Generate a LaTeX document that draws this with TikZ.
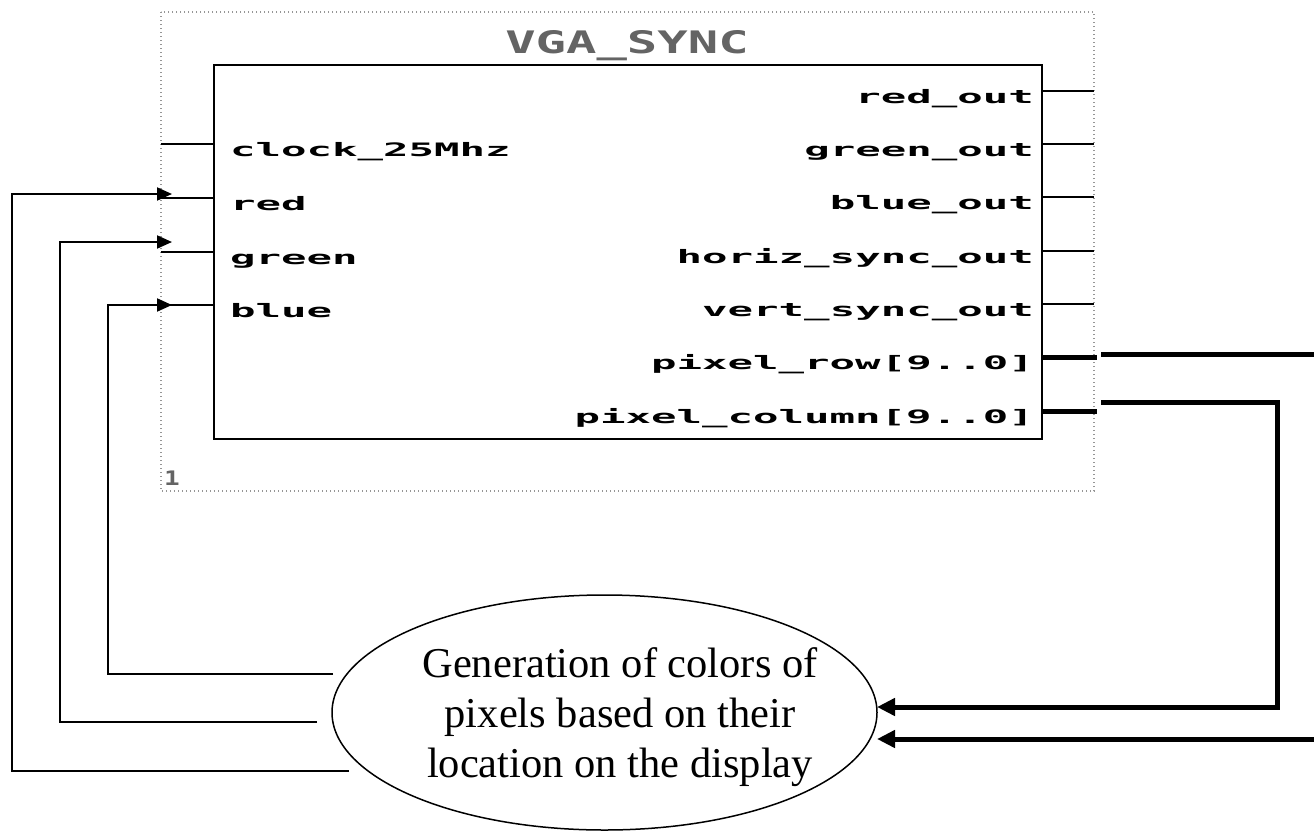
\documentclass[tikz,border=0pt]{standalone}
\usepackage{fontspec}
\setmainfont{Liberation Serif}
\newfontfamily\pixfont[FakeStretch=2.29]{DejaVu Sans Mono Bold}
\newfontfamily\titlefont[FakeStretch=1.63]{DejaVu Sans Mono Bold}
\newfontfamily\numfont[FakeStretch=1.3]{DejaVu Sans Mono Bold}
\usetikzlibrary{arrows.meta,shapes.geometric}
\definecolor{titlegray}{RGB}{100,100,100}
\definecolor{dotgray}{RGB}{150,150,150}
\begin{document}
\begin{tikzpicture}[x=1pt,y=-1pt,
  pinline/.style={line width=1.2pt},
  busline/.style={line width=5pt},
  fb/.style={line width=2pt,-{Triangle[length=15pt,width=13pt]}},
  busarrow/.style={line width=5pt,-{Triangle[length=18pt,width=17pt]}},
  lbl/.style={font=\pixfont\fontsize{18.5}{18.5}\selectfont,inner sep=0pt},
  lbll/.style={lbl,anchor=base west},
  lblr/.style={lbl,anchor=base east}]
\useasboundingbox (0,0) rectangle (1314,835);
\fill[white] (0,0) rectangle (1314,835);
% dotted frame
\draw[dotgray,line width=1.3pt,dash pattern=on 1.3pt off 2.7pt] (161,12) rectangle (1094,491);
% block
\node[draw,line width=1.5pt,minimum width=828pt,minimum height=374pt,inner sep=0pt,anchor=north west] (sync) at (213,64) {};
\node[font=\titlefont\fontsize{31}{31}\selectfont,text=titlegray,anchor=base,inner sep=0pt] (title) at (627,53) {VGA\_SYNC};
\node[font=\numfont\fontsize{20}{20}\selectfont,text=titlegray,anchor=base west,inner sep=0pt] (num) at (164,485) {1};
% left pins
\coordinate (ckp) at (161,144);
\coordinate (rdp) at (161,198);
\coordinate (grp) at (161,252);
\coordinate (blp) at (161,305);
\foreach \p in {ckp,rdp,grp,blp} \draw[pinline] (\p) -- (\p -| sync.west);
\node[lbll] (lck) at (230,156) {clock\_25Mhz};
\node[lbll] (lrd) at (230,210) {red};
\node[lbll] (lgr) at (230,264) {green};
\node[lbll] (lbl) at (230,317) {blue};
% right pins
\coordinate (rop) at (1094,91);
\coordinate (gop) at (1094,144);
\coordinate (bop) at (1094,197);
\coordinate (hsp) at (1094,251);
\coordinate (vsp) at (1094,304);
\foreach \p in {rop,gop,bop,hsp,vsp} \draw[pinline] (\p -| sync.east) -- (\p);
\coordinate (rwp) at (1097,357);
\coordinate (clp) at (1097,411);
\draw[busline] (rwp -| sync.east) -- (rwp);
\draw[busline] (clp -| sync.east) -- (clp);
\node[lblr] (lro) at (1034,103) {red\_out};
\node[lblr] (lgo) at (1034,156) {green\_out};
\node[lblr] (lbo) at (1034,209) {blue\_out};
\node[lblr] (lhs) at (1034,263) {horiz\_sync\_out};
\node[lblr] (lvs) at (1034,316) {vert\_sync\_out};
\node[lblr] (lrw) at (1034,369) {pixel\_row[9..0]};
\node[lblr] (lcl) at (1034,423) {pixel\_column[9..0]};
% generator
\node[ellipse,draw,line width=1.5pt,minimum width=545pt,minimum height=235pt,inner sep=0pt] (gen) at (604.5,712.5) {};
\node[align=center,inner sep=0pt,font=\fontsize{42.5}{50}\selectfont] (gentext) at (620,717)
  {Generation of colors of\\pixels based on their\\location on the display};
% feedback to inputs
\coordinate (rdtip) at (172,194);
\coordinate (grtip) at (172,242);
\coordinate (bltip) at (172,305);
\coordinate (rdsrc) at (349,771);
\coordinate (grsrc) at (317,722);
\coordinate (blsrc) at (333,674);
\draw[fb] (rdsrc) -- ++(-337,0) |- (rdtip);
\draw[fb] (grsrc) -- ++(-257,0) |- (grtip);
\draw[fb] (blsrc) -- ++(-225,0) |- (bltip);
% buses to generator
\coordinate (rwout) at (1101,354);
\coordinate (rwedge) at (1314,354);
\coordinate (rwback) at (1314,739);
\coordinate (rwtip) at (877,739);
\coordinate (clout) at (1101,402);
\coordinate (cltip) at (877,707);
\draw[busline] (rwout) -- (rwedge);
\draw[busarrow] (rwback) -- (rwtip);
\draw[busarrow] (clout) -- ++(176,0) |- (cltip);
\end{tikzpicture}
\end{document}
